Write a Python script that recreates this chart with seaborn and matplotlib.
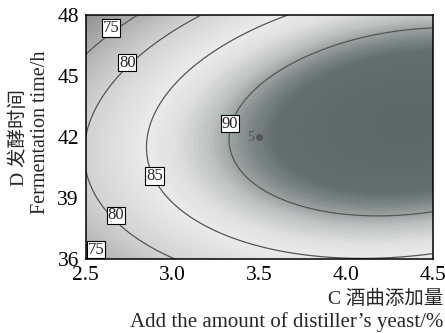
import numpy as np
import matplotlib
matplotlib.use("Agg")
import matplotlib.pyplot as plt
import seaborn as sns
from matplotlib.colors import LinearSegmentedColormap

sns.set_style("white")
plt.rcParams['font.family'] = ['Liberation Serif', 'Noto Sans CJK SC']

# response-surface model (centred at C=3.5, D=42)
c_center, d_center = 3.5, 42.0
b0, b_c, b_d = 91.371, 7.145, 0.016
b_cc, b_dd, b_cd = -4.216, -0.2179, 0.3572

contour_levels = [75, 80, 85, 90]
x_ticks = [2.5, 3.0, 3.5, 4.0, 4.5]
y_ticks = [36, 39, 42, 45, 48]
x_tick_labels = ["2.5", "3.0", "3.5", "4.0", "4.5"]
y_tick_labels = ["36", "39", "42", "45", "48"]
# contour label anchor points (C, D)
label_c = [2.645, 2.56, 2.74, 2.674, 2.896, 3.33]
label_d = [47.37, 36.46, 45.67, 38.15, 40.08, 42.66]
label_v = ["75", "75", "80", "80", "85", "90"]
design_c, design_d, design_n = [3.5], [42.0], ["5"]

x = np.linspace(2.5, 4.5, 400)
y = np.linspace(36, 48, 400)
X, Y = np.meshgrid(x, y)
U, V = X - c_center, Y - d_center
Z = b0 + b_c*U + b_d*V + b_cc*U**2 + b_dd*V**2 + b_cd*U*V

anchors = [(70, (0.56, 0.56, 0.56)), (75, (0.68, 0.68, 0.68)), (80, (0.82, 0.82, 0.82)),
           (85, (0.92, 0.92, 0.92)), (87, (0.88, 0.88, 0.88)), (89, (0.75, 0.76, 0.76)),
           (90.5, (0.56, 0.59, 0.59)), (92, (0.39, 0.43, 0.43)), (96, (0.35, 0.39, 0.39))]
vmin, vmax = anchors[0][0], anchors[-1][0]
cmap = LinearSegmentedColormap.from_list(
    "rs", [((v - vmin) / (vmax - vmin), c) for v, c in anchors])

fig = plt.figure(figsize=(4.45, 3.33), dpi=100)
ax = fig.add_axes([0.1926, 0.2222, 0.7804, 0.7318])
ax.contourf(X, Y, Z, levels=200, cmap=cmap, vmin=vmin, vmax=vmax)
ax.contour(X, Y, Z, levels=contour_levels, colors='#555555', linewidths=0.9)

for cx, dy, t in zip(label_c, label_d, label_v):
    ax.text(cx, dy, t, fontsize=12, ha='center', va='center', zorder=5,
            family='Liberation Serif',
            bbox=dict(facecolor='white', edgecolor='black', linewidth=0.8, pad=0.5))

ax.scatter(design_c, design_d, s=16, marker='o', color='#555555', zorder=6)
for cx, dy, t in zip(design_c, design_d, design_n):
    ax.text(cx - 0.03, dy, t, fontsize=10, color='#555555', ha='right', va='center')

ax.set_xlim(2.5, 4.5)
ax.set_ylim(36, 48)
ax.set_xticks(x_ticks)
ax.set_xticklabels(x_tick_labels)
ax.set_yticks(y_ticks)
ax.set_yticklabels(y_tick_labels)
ax.tick_params(axis='x', direction='in', length=4, width=0.8, labelsize=15.5, pad=5, colors='black')
ax.tick_params(axis='y', direction='inout', length=7, width=0.8, labelsize=15.5, pad=1.5, colors='black')
for s in ax.spines.values():
    s.set_color('black')
    s.set_linewidth(1.1)

fig.text(0.9955, 0.102, "C 酒曲添加量", fontsize=14, ha='right', va='center')
fig.text(0.9955, 0.033, "Add the amount of distiller\u2019s yeast/%", fontsize=15, ha='right', va='center')
fig.text(0.042, 0.587, "D 发酵时间", fontsize=14, rotation=90, ha='center', va='center')
fig.text(0.092, 0.602, "Fermentation time/h", fontsize=14.5, rotation=90, ha='center', va='center')

fig.savefig("out.png", dpi=100)
